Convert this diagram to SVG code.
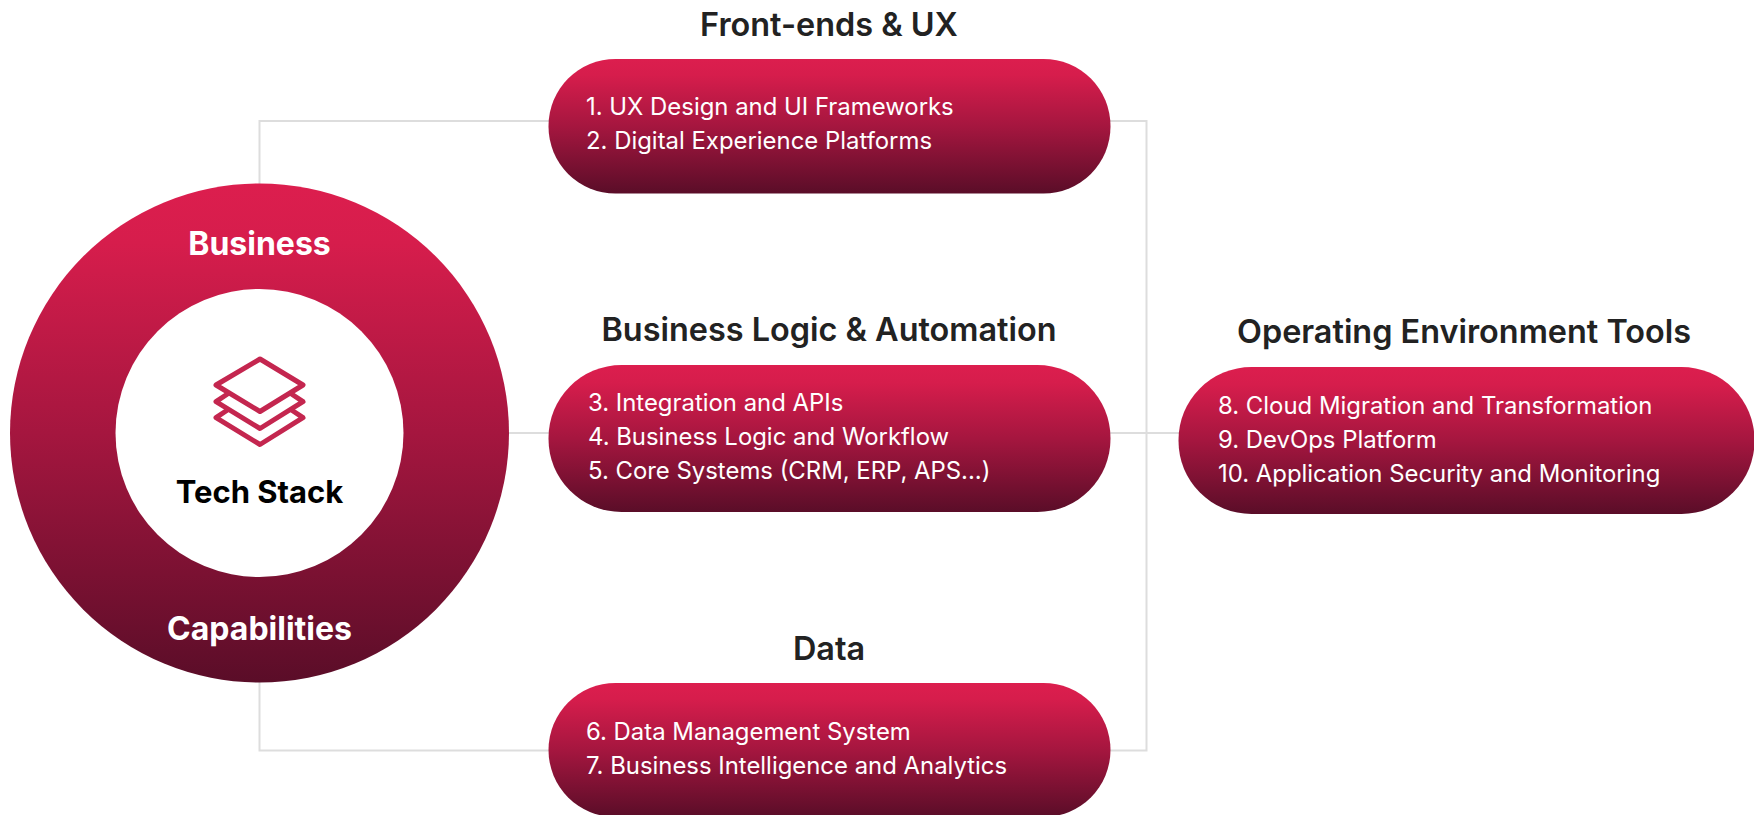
<svg xmlns="http://www.w3.org/2000/svg" width="1754" height="815" viewBox="0 0 1754 815">
<style>
text{font-family:Inter,"Liberation Sans",sans-serif}
.t{font-size:32.400px;font-weight:600;fill:#222;text-anchor:middle}
.b{font-size:23.900px;fill:#fff}
.c{font-size:32px;font-weight:700;fill:#fff;text-anchor:middle}
.l{fill:none;stroke:#ddd;stroke-width:2}
.p{fill:url(#g)}
</style>
<defs>
<linearGradient id="g" x1="0" y1="0" x2="0" y2="1"><stop offset="0" stop-color="#dc1e4e"/><stop offset="0.12" stop-color="#d61d4c"/><stop offset="0.5" stop-color="#a5163f"/><stop offset="1" stop-color="#5a0d28"/></linearGradient>
</defs>
<rect width="1754" height="815" fill="#fff"/>
<g id="connectors">
<path class="l" d="M259.500 185V121H560"/>
<path class="l" d="M259.500 682V750.500H560"/>
<path class="l" d="M500 433H1180"/>
<path class="l" d="M1100 121H1146.500V750.500H1100"/>
</g>
<g id="hub">
<circle class="p" cx="259.500" cy="433" r="249.500"/>
<circle cx="259.500" cy="433" r="144" fill="#fff"/>
<text class="c" x="259.500" y="255">Business</text>
<text class="c" x="259.500" y="640">Capabilities</text>
<g fill="none" stroke="#c4264f" stroke-width="5" stroke-linejoin="round">
<path d="M260 359L303 385L260 411.500L216 385Z"/>
<path d="M229 393L216 401.700L260 428.500L303 401.700L290 393"/>
<path d="M229 409L216 417.700L260 444.500L303 417.700L290 409"/>
</g>
<text x="259.500" y="503" font-size="31" font-weight="700" fill="#000" text-anchor="middle">Tech Stack</text>
</g>
<g id="frontends">
<text class="t" x="829" y="36">Front-ends &amp; UX</text>
<rect class="p" x="548.500" y="59" width="562" height="134.500" rx="67"/>
<text class="b" x="586" y="115">1. UX Design and UI Frameworks</text>
<text class="b" x="586" y="149">2. Digital Experience Platforms</text>
</g>
<g id="logic">
<text class="t" x="829" y="341">Business Logic &amp; Automation</text>
<rect class="p" x="548.500" y="365" width="562" height="147" rx="73"/>
<text class="b" x="588" y="410.500">3. Integration and APIs</text>
<text class="b" x="588" y="444.500">4. Business Logic and Workflow</text>
<text class="b" x="588" y="478.500">5. Core Systems (CRM, ERP, APS...)</text>
</g>
<g id="data">
<text class="t" x="829" y="660">Data</text>
<rect class="p" x="548.500" y="683" width="562" height="134" rx="67"/>
<text class="b" x="586" y="739.500">6. Data Management System</text>
<text class="b" x="586" y="773.500">7. Business Intelligence and Analytics</text>
</g>
<g id="tools">
<text class="t" x="1464" y="343">Operating Environment Tools</text>
<rect class="p" x="1178.500" y="367" width="576" height="147" rx="73"/>
<text class="b" x="1218" y="413.500">8. Cloud Migration and Transformation</text>
<text class="b" x="1218" y="447.500">9. DevOps Platform</text>
<text class="b" x="1218" y="481.500">10. Application Security and Monitoring</text>
</g>
</svg>
